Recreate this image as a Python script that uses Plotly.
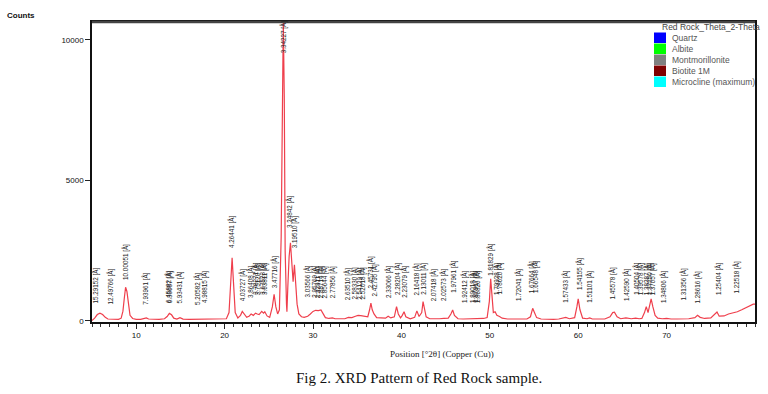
import plotly.graph_objects as go

# ---- pattern (2theta in degrees, counts) ----
two_theta = [5.0, 5.3, 5.6, 5.9, 6.2, 6.5, 6.8, 7.2, 7.6, 8.0, 8.3, 8.5, 8.65, 8.8, 8.95, 9.1, 9.3, 9.6,
             10.0, 10.5, 11.0, 11.15, 11.4, 12.0, 12.6, 13.2, 13.5, 13.75, 14.0, 14.25, 14.6, 14.95, 15.3,
             16.0, 17.0, 17.8, 18.5, 19.5, 20.2, 20.5, 20.7, 20.85, 21.0, 21.2, 21.5, 21.8, 22.0, 22.2,
             22.5, 22.8, 23.0, 23.25, 23.5, 23.7, 23.9, 24.2, 24.4, 24.55, 24.8, 25.1, 25.4, 25.6, 25.8,
             26.0, 26.2, 26.4, 26.55, 26.64, 26.75, 26.85, 27.0, 27.05, 27.15, 27.3, 27.45, 27.6, 27.75,
             27.9, 28.05, 28.2, 28.4, 28.7, 29.0, 29.4, 29.7, 30.0, 30.3, 30.6, 30.9, 31.1, 31.4, 31.8,
             32.2, 32.5, 33.0, 33.6, 34.0, 34.4, 34.8, 35.1, 35.4, 35.8, 36.2, 36.4, 36.55, 36.7, 36.9,
             37.2, 37.8, 38.2, 38.5, 38.8, 39.2, 39.45, 39.65, 39.9, 40.1, 40.3, 40.5, 41.0, 41.5, 41.75,
             42.0, 42.3, 42.45, 42.6, 42.8, 43.2, 43.8, 44.3, 44.8, 45.3, 45.6, 45.8, 46.0, 46.4, 47.0,
             47.6, 48.2, 48.8, 49.3, 49.7, 49.95, 50.1, 50.25, 50.4, 50.6, 50.8, 51.1, 51.4, 52.0, 52.6,
             53.2, 53.6, 54.2, 54.6, 54.85, 55.05, 55.3, 55.8, 56.5, 57.2, 57.8, 58.3, 58.6, 59.0, 59.6,
             59.85, 60.0, 60.2, 60.5, 61.0, 61.3, 61.6, 62.3, 63.0, 63.6, 63.9, 64.1, 64.4, 64.8, 65.4,
             66.0, 66.5, 66.9, 67.2, 67.5, 67.7, 67.9, 68.1, 68.25, 68.45, 68.7, 69.0, 69.5, 70.0, 70.5,
             71.2, 71.8, 72.5, 73.2, 73.5, 73.8, 74.3, 75.0, 75.5, 75.7, 75.95, 76.5, 77.0, 77.5, 78.0,
             78.5, 79.0, 79.5, 79.8, 80.0]
counts = [20, 100, 230, 280, 230, 130, 70, 60, 55, 60, 100, 350, 800, 1200, 1050, 600, 200, 90,
          60, 55, 80, 110, 70, 55, 60, 80, 160, 270, 220, 100, 70, 120, 65,
          55, 60, 65, 55, 60, 80, 300, 1400, 2250, 1400, 300, 110, 200, 340, 250,
          130, 180, 250, 200, 280, 250, 230, 340, 280, 330, 180, 130, 500, 950, 500,
          250, 400, 3000, 9000, 10700, 8000, 2500, 600, 330, 1200, 2300, 2780, 2200, 1400,
          2000, 1400, 600, 250, 150, 130, 170, 250, 340, 380, 370, 390, 300, 120, 90,
          110, 80, 70, 80, 130, 120, 170, 200, 190, 170, 150, 400, 640, 400, 250,
          120, 110, 100, 170, 110, 150, 510, 250, 110, 200, 330, 150, 80, 130, 360,
          160, 300, 690, 450, 150, 80, 70, 80, 90, 100, 250, 390, 200, 80, 70,
          75, 80, 110, 90, 120, 700, 1500, 800, 300, 330, 200, 160, 100, 70, 65,
          80, 70, 70, 150, 450, 300, 120, 70, 60, 60, 70, 120, 130, 80, 120,
          500, 790, 400, 100, 80, 110, 70, 60, 70, 150, 300, 310, 150, 80, 110,
          80, 100, 80, 90, 300, 510, 300, 650, 790, 500, 200, 100, 80, 90, 70,
          70, 80, 80, 120, 200, 130, 90, 110, 250, 320, 170, 180, 250, 290, 330,
          400, 470, 560, 600, 600]

# ---- peak d-spacing labels ----
label_pos = [5.5, 7.1, 8.84, 11.1, 13.7, 13.85, 14.9, 17.0, 17.8, 20.85, 22.0, 23.0, 23.5, 23.7, 24.2,
             24.45, 25.6, 26.65, 27.4, 27.9, 29.4, 30.2, 30.5, 30.95, 31.3, 32.2, 34.0, 34.7, 35.3,
             35.6, 36.5, 37.0, 38.6, 39.5, 40.4, 41.7, 42.4, 43.6, 44.7, 45.8, 47.2, 48.1, 48.4, 48.7,
             50.1, 50.7, 51.1, 53.2, 54.7, 55.1, 58.6, 60.1, 61.3, 63.9, 65.4, 66.5, 67.0, 67.7, 68.0,
             68.4, 69.7, 71.8, 73.6, 75.8, 77.9]
label_base = [570, 500, 1390, 500, 570, 570, 530, 500, 570, 2530, 640, 750, 850, 850, 850,
              850, 1100, 9470, 3240, 2530, 750, 750, 750, 750, 750, 750, 680, 680, 680,
              680, 1100, 800, 750, 850, 750, 850, 850, 640, 640, 925, 570, 570, 570, 570,
              1530, 850, 850, 640, 925, 925, 570, 1030, 570, 680, 640, 850, 850, 850, 850,
              850, 570, 640, 570, 850, 925]
label_text = ["15.29152 [Å]", "12.49766 [Å]", "10.00051 [Å]", "7.93961 [Å]", "6.45882 [Å]",
              "6.38687 [Å]", "5.93431 [Å]", "5.20582 [Å]", "4.98815 [Å]", "4.26441 [Å]",
              "4.03727 [Å]", "3.86408 [Å]", "3.78271 [Å]", "3.75120 [Å]", "3.67523 [Å]",
              "3.63811 [Å]", "3.47716 [Å]", "3.34227 [Å]", "3.24842 [Å]", "3.19510 [Å]",
              "3.03566 [Å]", "2.95769 [Å]", "2.92911 [Å]", "2.88714 [Å]", "2.85644 [Å]",
              "2.77856 [Å]", "2.63510 [Å]", "2.58330 [Å]", "2.54129 [Å]", "2.52018 [Å]",
              "2.45731 [Å]", "2.42795 [Å]", "2.33066 [Å]", "2.28204 [Å]", "2.23079 [Å]",
              "2.16418 [Å]", "2.13011 [Å]", "2.07418 [Å]", "2.02573 [Å]", "1.97961 [Å]",
              "1.92412 [Å]", "1.89018 [Å]", "1.87917 [Å]", "1.86826 [Å]", "1.81829 [Å]",
              "1.79928 [Å]", "1.78620 [Å]", "1.72041 [Å]", "1.67664 [Å]", "1.66548 [Å]",
              "1.57433 [Å]", "1.54155 [Å]", "1.51101 [Å]", "1.45578 [Å]", "1.42590 [Å]",
              "1.40504 [Å]", "1.39578 [Å]", "1.38287 [Å]", "1.37750 [Å]", "1.37057 [Å]",
              "1.34806 [Å]", "1.31356 [Å]", "1.28616 [Å]", "1.25404 [Å]", "1.22518 [Å]"]

# ---- legend ----
legend_title = "Red Rock_Theta_2-Theta"
phases = ["Quartz", "Albite", "Montmorillonite", "Biotite 1M", "Microcline (maximum)"]
phase_colors = ["#0000FF", "#00FF00", "#808080", "#800000", "#00FFFF"]

x_ticks = [10, 20, 30, 40, 50, 60, 70]
y_ticks = [0, 5000, 10000]

W, H = 768, 394
L, R, T, B = 92, 13, 22, 72
PW, PH = W - L - R, H - T - B

fig = go.Figure()
fig.add_trace(go.Scatter(x=two_theta, y=counts, mode="lines",
                         line=dict(color="#EF3F4C", width=1.2), showlegend=False,
                         cliponaxis=True))

anns = []
for xp, yb, tx in zip(label_pos, label_base, label_text):
    anns.append(dict(x=xp, y=yb, xref="x", yref="y", text=tx, textangle=-90,
                     showarrow=False, xanchor="center", yanchor="bottom",
                     font=dict(size=6.3, color="#222222", family="Liberation Sans")))


def px(x):
    return (x - L) / PW


def py(y):
    return 1 - (y - T) / PH


# legend drawn in paper space
shapes = []
anns.append(dict(x=px(660), y=py(27), xref="paper", yref="paper", text=legend_title,
                 showarrow=False, xanchor="left", yanchor="middle",
                 font=dict(size=8.5, color="#444444", family="Liberation Sans")))
for i, (nm, col) in enumerate(zip(phases, phase_colors)):
    top = 32.5 + i * 11
    shapes.append(dict(type="rect", xref="paper", yref="paper", x0=px(654), x1=px(666),
                       y0=py(top + 10.5), y1=py(top), fillcolor=col, line=dict(width=0)))
    anns.append(dict(x=px(670), y=py(top + 5.5), xref="paper", yref="paper", text=nm,
                     showarrow=False, xanchor="left", yanchor="middle",
                     font=dict(size=8.5, color="#555555", family="Liberation Sans")))

# top thick border
shapes.append(dict(type="line", xref="paper", yref="paper", x0=0, x1=1, y0=1, y1=1,
                   line=dict(color="#444444", width=2.4)))

anns.append(dict(x=px(21), y=py(16), xref="paper", yref="paper", text="<b>Counts</b>",
                 showarrow=False, xanchor="center", yanchor="middle",
                 font=dict(size=8, color="#111111", family="Liberation Sans")))
anns.append(dict(x=px(442), y=py(354), xref="paper", yref="paper",
                 text="Position [°2θ] (Copper (Cu))",
                 showarrow=False, xanchor="center", yanchor="middle",
                 font=dict(size=9, color="#222222", family="Liberation Serif")))
anns.append(dict(x=px(419), y=py(378), xref="paper", yref="paper",
                 text="Fig 2. XRD Pattern of Red Rock sample.",
                 showarrow=False, xanchor="center", yanchor="middle",
                 font=dict(size=15, color="#111111", family="Liberation Serif")))

fig.update_layout(
    width=W, height=H,
    margin=dict(l=L, r=R, t=T, b=B, autoexpand=False),
    paper_bgcolor="white", plot_bgcolor="white",
    showlegend=False,
    annotations=anns, shapes=shapes,
    xaxis=dict(range=[5, 80], tickvals=x_ticks, ticks="outside", ticklen=5, tickwidth=1,
               tickcolor="#222", showgrid=False, zeroline=False, showline=True,
               linecolor="#111", linewidth=1.5, mirror=True,
               tickfont=dict(size=8, color="#111", family="Liberation Sans"),
               minor=dict(dtick=1, ticks="outside", ticklen=3, tickcolor="#333", showgrid=False)),
    yaxis=dict(range=[-36, 10640], tickvals=y_ticks, ticktext=[str(v) for v in y_ticks],
               ticks="outside", ticklen=5, tickwidth=1, tickcolor="#222",
               showgrid=False, zeroline=False, showline=True, linecolor="#111",
               linewidth=1.5, mirror=True,
               tickfont=dict(size=8, color="#111", family="Liberation Sans")),
)

fig.write_html("out.html", config={"displayModeBar": False},
               post_script="document.body.style.margin='0';document.body.style.overflow='hidden';")
